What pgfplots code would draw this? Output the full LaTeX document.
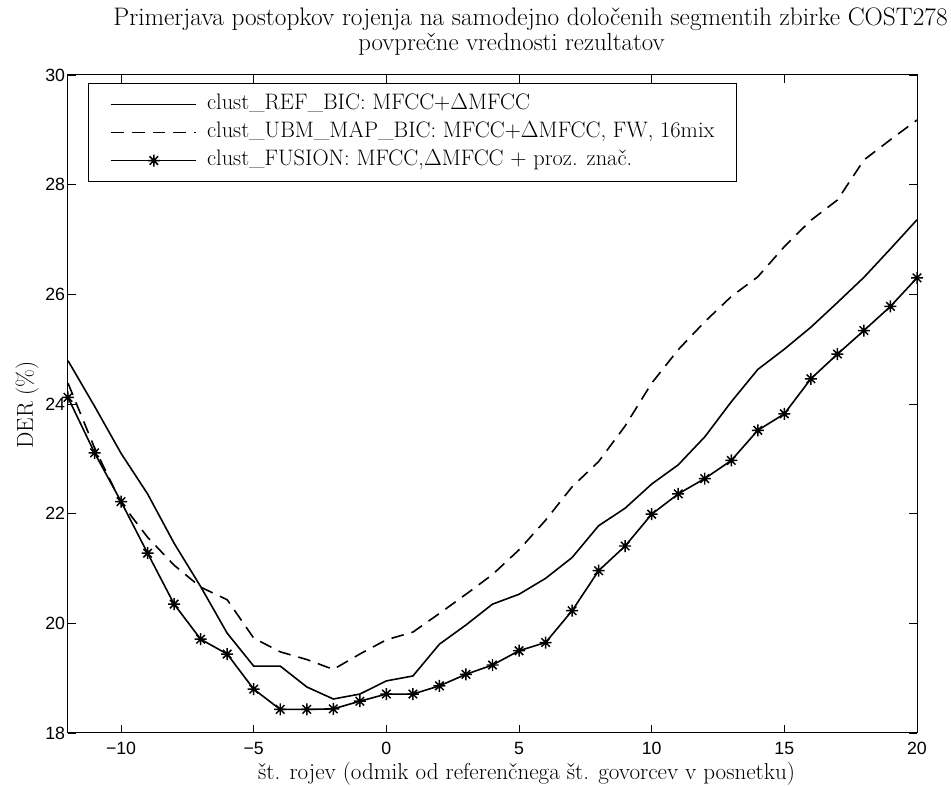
\documentclass[border=0pt]{standalone}
\usepackage{fontspec}
\newfontfamily\ticksf{Liberation Sans}
\usepackage{pgfplots}
\usepackage{pgfplotstable}
\pgfplotsset{compat=1.18}

\pgfdeclareplotmark{mstar}{%
  \pgfpathmoveto{\pgfqpoint{0pt}{\pgfplotmarksize}}%
  \pgfpathlineto{\pgfqpoint{0pt}{-\pgfplotmarksize}}%
  \pgfpathmoveto{\pgfqpoint{\pgfplotmarksize}{0pt}}%
  \pgfpathlineto{\pgfqpoint{-\pgfplotmarksize}{0pt}}%
  \pgfpathmoveto{\pgfqpoint{0.7071\pgfplotmarksize}{0.7071\pgfplotmarksize}}%
  \pgfpathlineto{\pgfqpoint{-0.7071\pgfplotmarksize}{-0.7071\pgfplotmarksize}}%
  \pgfpathmoveto{\pgfqpoint{-0.7071\pgfplotmarksize}{0.7071\pgfplotmarksize}}%
  \pgfpathlineto{\pgfqpoint{0.7071\pgfplotmarksize}{-0.7071\pgfplotmarksize}}%
  \pgfusepathqstroke}

\pgfplotstableread{
x ref ubm fus
-12 24.79 24.38 24.12
-11 23.96 23.20 23.11
-10 23.10 22.20 22.22
-9 22.36 21.57 21.28
-8 21.46 21.06 20.35
-7 20.67 20.66 19.71
-6 19.82 20.43 19.44
-5 19.22 19.73 18.80
-4 19.22 19.48 18.43
-3 18.84 19.34 18.43
-2 18.62 19.16 18.44
-1 18.71 19.44 18.58
0 18.95 19.70 18.71
1 19.04 19.84 18.71
2 19.62 20.18 18.86
3 19.97 20.53 19.07
4 20.35 20.89 19.24
5 20.53 21.34 19.50
6 20.82 21.88 19.65
7 21.20 22.49 20.23
8 21.78 22.95 20.96
9 22.10 23.60 21.41
10 22.54 24.38 21.99
11 22.89 24.99 22.36
12 23.40 25.50 22.64
13 24.04 25.96 22.97
14 24.63 26.32 23.52
15 25.00 26.87 23.82
16 25.40 27.35 24.46
17 25.85 27.72 24.91
18 26.31 28.45 25.34
19 26.83 28.82 25.78
20 27.36 29.18 26.30
}\datatable

\begin{document}
\begin{tikzpicture}[x=1pt,y=1pt]
\useasboundingbox (-51,-39.75) rectangle (662.25,549.75);
\begin{axis}[
  at={(0,0)}, anchor=south west,
  scale only axis, width=636.75pt, height=493.5pt,
  xmin=-12, xmax=20, ymin=18, ymax=30,
  xtick={-10,-5,0,5,10,15,20},
  xticklabels={−10,−5,0,5,10,15,20},
  ytick={18,20,22,24,26,28,30},
  yticklabels={18,20,22,24,26,28,30},
  tick align=inside,
  major tick length=6pt,
  tick style={black, line width=0.6pt},
  axis line style={line width=0.75pt},
  ticklabel style={font=\fontsize{13.3}{15}\ticksf},
  xticklabel style={yshift=-3.4pt},
  yticklabel style={xshift=1.3pt},
  legend style={
    at={(rel axis cs:0.02356,0.9878)}, anchor=north west,
    draw=black, line width=0.75pt, fill=white,
    font=\fontsize{16.8}{19}\selectfont,
    inner xsep=16.5pt, inner ysep=8.25pt,
    row sep=6pt, column sep=7.5pt,
    nodes={text height=11.5pt, text depth=3.5pt, inner ysep=0pt, inner xsep=0pt, anchor=west},
    cells={anchor=west},
  },
  legend image code/.code={\draw[mark repeat=2,mark phase=2,#1] plot coordinates {(0pt,0pt) (31.875pt,0pt) (63.75pt,0pt)};},
  every axis plot/.append style={line width=1.2pt, black},
]
\addplot[no marks, solid] table[x=x, y=ref] {\datatable};
\addlegendentry{clust\_REF\_BIC: MFCC+$\Delta$MFCC}
\addplot[no marks, dash pattern=on 9.5pt off 6pt] table[x=x, y=ubm] {\datatable};
\addlegendentry{clust\_UBM\_MAP\_BIC: MFCC+$\Delta$MFCC, FW, 16mix}
\addplot[solid, mark=mstar, mark size=4.5pt, mark options={solid, line width=1.1pt}] table[x=x, y=fus] {\datatable};
\addlegendentry{clust\_FUSION: MFCC,$\Delta$MFCC + proz. znač.}
\end{axis}
\node[anchor=base] at (346.9,530.25) {\fontsize{19}{22}\selectfont Primerjava postopkov rojenja na samodejno določenih segmentih zbirke COST278};
\node[anchor=base] at (332.6,511.5) {\fontsize{18.6}{21}\selectfont povprečne vrednosti rezultatov};
\node[anchor=base] at (343.9,-35.25) {\fontsize{17.3}{20}\selectfont št. rojev (odmik od referenčnega št. govorcev v posnetku)};
\node[anchor=base, rotate=90] at (-26.25,246) {\fontsize{17.3}{20}\selectfont DER (\%)};
\end{tikzpicture}
\end{document}
